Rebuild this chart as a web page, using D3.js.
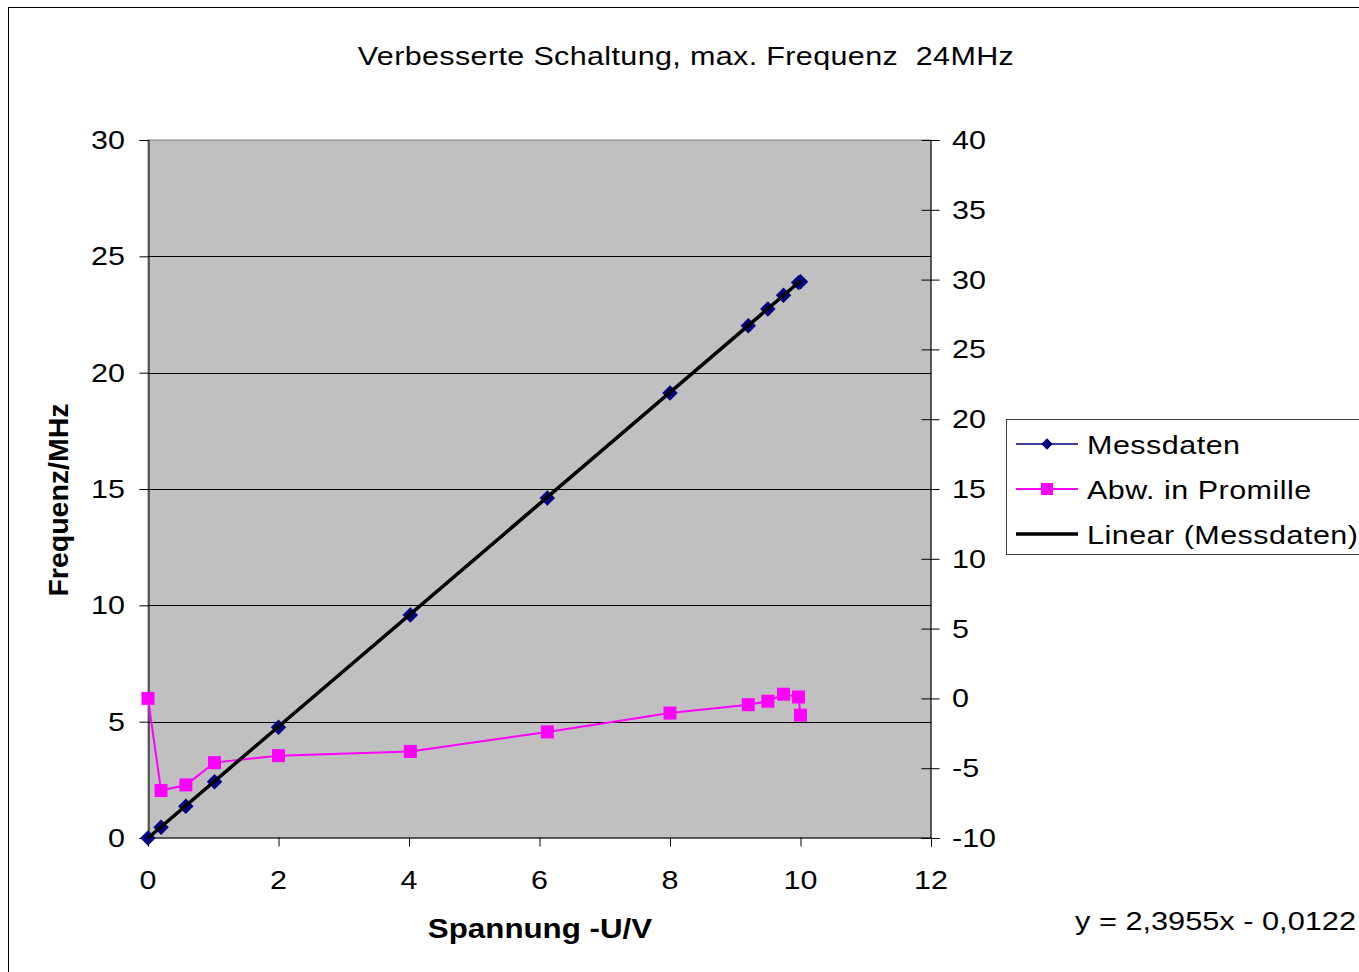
<!DOCTYPE html>
<html>
<head>
<meta charset="utf-8">
<script src="https://cdn.jsdelivr.net/npm/d3@7"></script>
<style>
  html, body { margin: 0; padding: 0; background: #fff; overflow: hidden; }
  svg { display: block; font-family: "Liberation Sans", Arial, sans-serif; }
  svg text { white-space: pre; }
</style>
</head>
<body>
<script>
// Measurement: control voltage vs. oscillator frequency
const spannung = [0, 0.2, 0.58, 1.02, 2.0, 4.02, 6.12, 8.0, 9.2, 9.5, 9.74, 9.97, 10.0];
const frequenz = [0, 0.464, 1.369, 2.42, 4.76, 9.58, 14.61, 19.13, 22.02, 22.74, 23.33, 23.87, 23.91];
// Deviation from the linear fit, per mille
const abweichung = [0, -6.6, -6.2, -4.6, -4.1, -3.8, -2.4, -1.05, -0.45, -0.2, 0.3, 0.1, -1.2];
// Linear trend line y = m*x + b
const trendCoef = [2.3955, -0.0122];
const trendRange = [0, 10.0];

const xTicks = [0, 2, 4, 6, 8, 10, 12];
const yLeftTicks = [0, 5, 10, 15, 20, 25, 30];
const yRightTicks = [-10, -5, 0, 5, 10, 15, 20, 25, 30, 35, 40];
const legendLabels = ["Messdaten", "Abw. in Promille", "Linear (Messdaten)"];
const titleText = "Verbesserte Schaltung, max. Frequenz  24MHz";
const xTitle = "Spannung -U/V";
const yTitle = "Frequenz/MHz";
const equationText = "y = 2,3955x - 0,0122";

const W = 1359, H = 972;
const SX = 1.22; // horizontal glyph stretch of the chart's text
const svg = d3.select("body").append("svg").attr("width", W).attr("height", H);

// chart frame
svg.append("rect").attr("x", 8.5).attr("y", 7.5).attr("width", 1400).attr("height", 1000)
  .attr("fill", "#fff").attr("stroke", "#000").attr("stroke-width", 1);

const x = d3.scaleLinear().domain([0, 12]).range([148, 931]);
const yL = d3.scaleLinear().domain([0, 30]).range([838, 140]);
const yR = d3.scaleLinear().domain([-10, 40]).range([838, 140]);

// plot area
svg.append("rect").attr("x", x(0)).attr("y", yL(30)).attr("width", x(12) - x(0)).attr("height", yL(0) - yL(30))
  .attr("fill", "#C0C0C0").attr("stroke", "#808080").attr("stroke-width", 1);

// gridlines
svg.append("g").selectAll("line").data(yLeftTicks.filter(d => d > 0 && d < 30)).join("line")
  .attr("x1", x(0)).attr("x2", x(12)).attr("y1", d => Math.round(yL(d)) + 0.5).attr("y2", d => Math.round(yL(d)) + 0.5)
  .attr("stroke", "#000").attr("stroke-width", 1);

function stretchedText(g, str, tx, ty, anchor, size, weight, sx) {
  return g.append("text")
    .attr("transform", `translate(${tx},${ty}) scale(${sx || SX},1)`)
    .attr("text-anchor", anchor).attr("font-size", size).attr("font-weight", weight || "normal")
    .attr("fill", "#000").text(str);
}

// left axis
const axL = svg.append("g").attr("transform", `translate(${x(0) + 0.5},0)`)
  .call(d3.axisLeft(yL).tickValues(yLeftTicks).tickSize(9).tickFormat(""));
axL.select(".domain").attr("stroke", "#000");
axL.selectAll(".tick line").attr("stroke", "#000");
yLeftTicks.forEach(v => stretchedText(svg, String(v), 125, yL(v) + 9, "end", 25));

// right axis with crossing ticks
const axR = svg.append("g").attr("transform", `translate(${x(12) - 0.5},0)`)
  .call(d3.axisRight(yR).tickValues(yRightTicks).tickSize(9).tickFormat(""));
axR.select(".domain").attr("stroke", "#000");
axR.selectAll(".tick line").attr("stroke", "#000").attr("x1", -9);
yRightTicks.forEach(v => stretchedText(svg, String(v), 952, yR(v) + 9, "start", 25));

// bottom axis
const axB = svg.append("g").attr("transform", `translate(0,${yL(0) - 0.5})`)
  .call(d3.axisBottom(x).tickValues(xTicks).tickSize(9).tickFormat(""));
axB.select(".domain").attr("stroke", "#000");
axB.selectAll(".tick line").attr("stroke", "#000");
xTicks.forEach(v => stretchedText(svg, String(v), x(v), 889, "middle", 25));

// titles
stretchedText(svg, titleText, 686, 65, "middle", 25).attr("letter-spacing", 0.3);
stretchedText(svg, xTitle, 540, 938, "middle", 27, "bold", 1.16);
svg.append("text").attr("transform", "translate(68,500) rotate(-90)")
  .attr("text-anchor", "middle").attr("font-size", 28.5).attr("font-weight", "bold").text(yTitle);

const pts = spannung.map((s, i) => ({ s, f: frequenz[i], a: abweichung[i] }));

// Messdaten line + diamonds
svg.append("path").datum(pts)
  .attr("d", d3.line().x(d => x(d.s)).y(d => yL(d.f)))
  .attr("fill", "none").attr("stroke", "#000080").attr("stroke-width", 1.5);
svg.append("g").selectAll("path").data(pts).join("path")
  .attr("d", d3.symbol(d3.symbolSquare, 120)())
  .attr("transform", d => `translate(${x(d.s)},${yL(d.f)}) rotate(45)`)
  .attr("fill", "#000080");

// deviation series (right axis)
svg.append("path").datum(pts)
  .attr("d", d3.line().x(d => x(d.s)).y(d => yR(d.a)))
  .attr("fill", "none").attr("stroke", "#FF00FF").attr("stroke-width", 2);
svg.append("g").selectAll("rect").data(pts).join("rect")
  .attr("x", d => x(d.s) - 6.5).attr("y", d => yR(d.a) - 6.5).attr("width", 13).attr("height", 13)
  .attr("fill", "#FF00FF");

// linear trend line
svg.append("line")
  .attr("x1", x(trendRange[0])).attr("y1", yL(Math.max(0, trendCoef[0] * trendRange[0] + trendCoef[1])))
  .attr("x2", x(trendRange[1])).attr("y2", yL(trendCoef[0] * trendRange[1] + trendCoef[1]))
  .attr("stroke", "#000").attr("stroke-width", 3.5);

// legend
const lg = svg.append("g");
lg.append("rect").attr("x", 1006.5).attr("y", 419.5).attr("width", 400).attr("height", 135)
  .attr("fill", "#fff").attr("stroke", "#404040").attr("stroke-width", 1);
const rows = [444, 489, 534];
lg.append("line").attr("x1", 1016).attr("x2", 1078).attr("y1", rows[0]).attr("y2", rows[0]).attr("stroke", "#000080").attr("stroke-width", 1.5);
lg.append("path").attr("d", d3.symbol(d3.symbolSquare, 64)()).attr("transform", `translate(1047,${rows[0]}) rotate(45)`).attr("fill", "#000080");
lg.append("line").attr("x1", 1016).attr("x2", 1078).attr("y1", rows[1]).attr("y2", rows[1]).attr("stroke", "#FF00FF").attr("stroke-width", 2);
lg.append("rect").attr("x", 1041).attr("y", rows[1] - 6).attr("width", 12).attr("height", 12).attr("fill", "#FF00FF");
lg.append("line").attr("x1", 1016).attr("x2", 1078).attr("y1", rows[2]).attr("y2", rows[2]).attr("stroke", "#000").attr("stroke-width", 3.5);
legendLabels.forEach((t, i) => stretchedText(lg, t, 1087, rows[i] + 10, "start", 25).attr("letter-spacing", 0.4));

// trend equation
stretchedText(svg, equationText, 1075, 930, "start", 25.2);
</script>
</body>
</html>
